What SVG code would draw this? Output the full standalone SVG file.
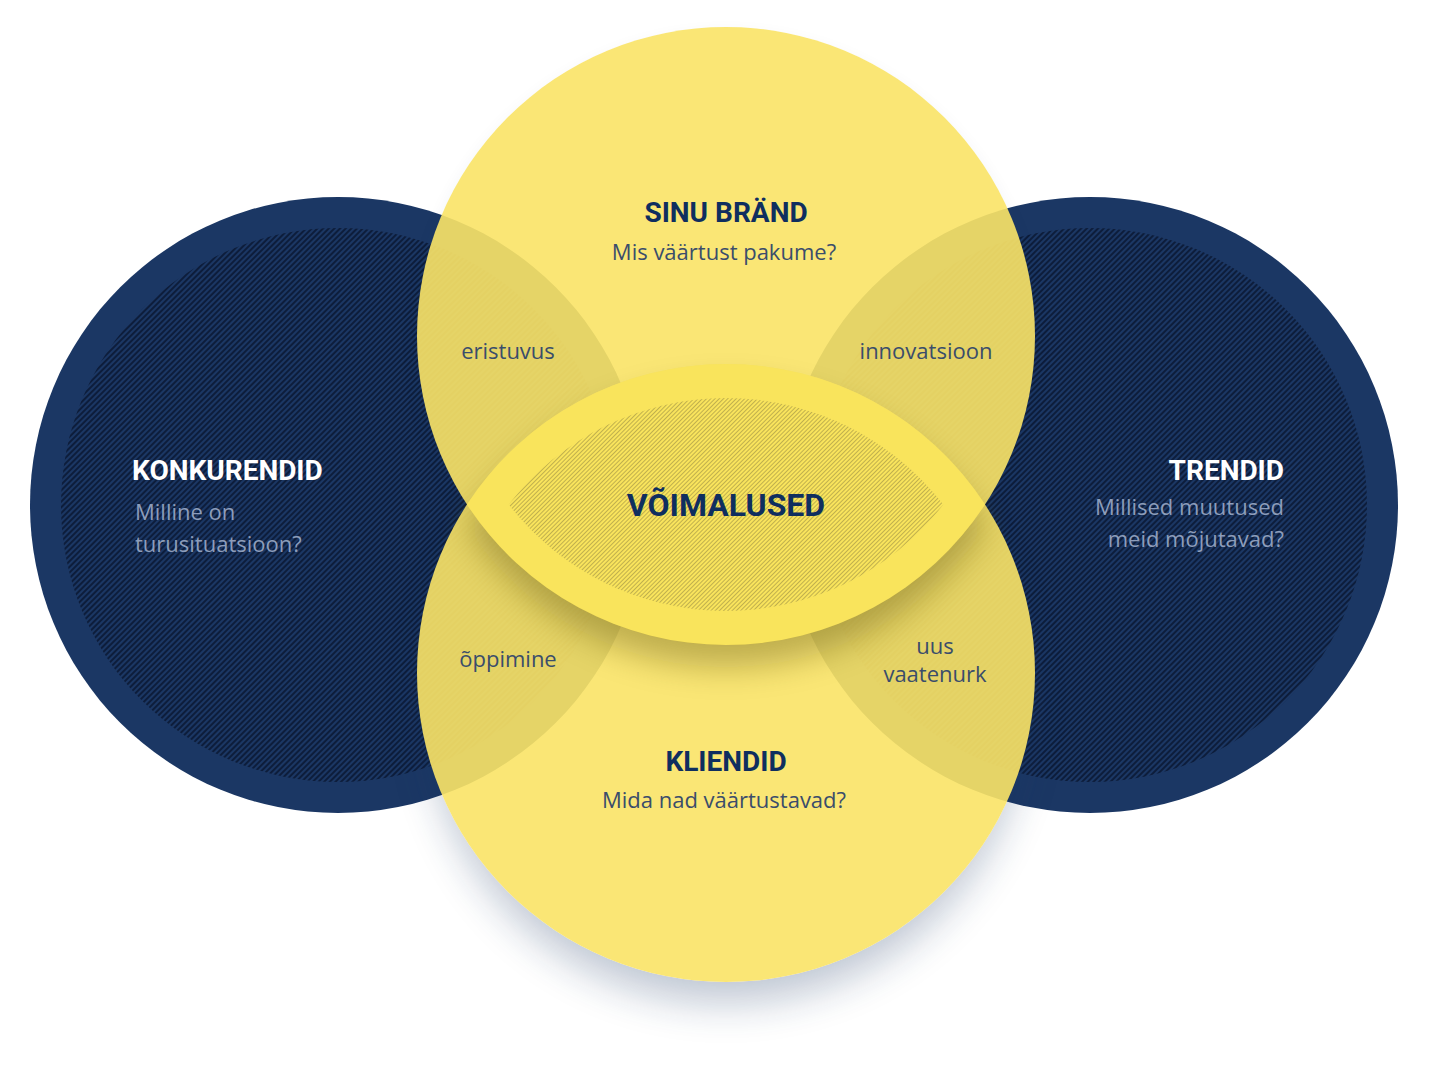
<svg xmlns="http://www.w3.org/2000/svg" width="1430" height="1075" viewBox="0 0 1430 1075">
  <style>
    .h { font-family: Roboto, "Liberation Sans", sans-serif; font-weight: 700; fill: #0f2e5f; }
    .hw { font-family: Roboto, "Liberation Sans", sans-serif; font-weight: 700; fill: #ffffff; }
    .b { font-family: "Open Sans", "Noto Sans", "Liberation Sans", sans-serif; font-size: 22px; font-weight: 500; fill: #3a4d6b; }
    .bn { font-family: "Open Sans", "Noto Sans", "Liberation Sans", sans-serif; font-size: 22px; font-weight: 500; fill: #8d9dba; }
    .navy { fill: #1b3764; }
    .yellow { fill: #f9e367; opacity: 0.91; }
  </style>
  <defs>
    <pattern id="hatchNavy" width="4" height="4" patternUnits="userSpaceOnUse" patternTransform="rotate(45)">
      <rect width="4" height="4" fill="#1b3764"/>
      <line x1="2" y1="0" x2="2" y2="4" stroke="#091630" stroke-width="1.6"/>
    </pattern>
    <pattern id="hatchLens" width="3" height="3" patternUnits="userSpaceOnUse" patternTransform="rotate(45)">
      <line x1="1.5" y1="0" x2="1.5" y2="3" stroke="#ae9f48" stroke-width="0.9"/>
    </pattern>
    <filter id="shadowBig" x="-30%" y="-30%" width="160%" height="170%">
      <feGaussianBlur stdDeviation="20"/>
    </filter>
    <filter id="shadowSmall" x="-30%" y="-30%" width="160%" height="170%">
      <feGaussianBlur stdDeviation="10"/>
    </filter>
    <filter id="shadowLens" x="-30%" y="-50%" width="160%" height="200%">
      <feGaussianBlur stdDeviation="16"/>
    </filter>
    <mask id="outsideYellow" maskUnits="userSpaceOnUse" x="0" y="0" width="1430" height="1075">
      <rect width="1430" height="1075" fill="#ffffff"/>
      <circle cx="726" cy="673" r="309" fill="#000000"/>
      <circle cx="726" cy="336" r="309" fill="#000000"/>
    </mask>
  </defs>

  <rect width="1430" height="1075" fill="#ffffff"/>

  <g id="node-konkurendid">
    <circle class="navy" cx="338" cy="505" r="308"/>
    <circle cx="338" cy="505" r="277" fill="url(#hatchNavy)"/>
  </g>
  <g id="node-trendid">
    <circle class="navy" cx="1090" cy="505" r="308"/>
    <circle cx="1090" cy="505" r="277" fill="url(#hatchNavy)"/>
  </g>

  <g id="shadows" mask="url(#outsideYellow)">
    <circle cx="726" cy="703" r="300" fill="#1b3764" opacity="0.28" filter="url(#shadowBig)"/>
    <circle cx="726" cy="344" r="306" fill="#1b3764" opacity="0.10" filter="url(#shadowSmall)"/>
  </g>

  <g id="node-kliendid">
    <circle class="yellow" cx="726" cy="673" r="309"/>
  </g>
  <g id="node-sinu-brand">
    <circle class="yellow" cx="726" cy="336" r="309"/>
  </g>

  <g id="node-voimalused">
    <path d="M467 526.5 A309 309 0 0 1 985 526.5 A309 309 0 0 1 467 526.5 Z" fill="#5e5210" opacity="0.38" filter="url(#shadowLens)"/>
    <path d="M467 504.5 A309 309 0 0 1 985 504.5 A309 309 0 0 1 467 504.5 Z" fill="#f9e45c"/>
    <path d="M508.7 504.5 A275 275 0 0 1 943.3 504.5 A275 275 0 0 1 508.7 504.5 Z" fill="url(#hatchLens)" opacity="0.85"/>
    <text class="h" x="726" y="516" font-size="32" text-anchor="middle">VÕIMALUSED</text>
  </g>

  <g id="labels-konkurendid">
    <text class="hw" x="132" y="480" font-size="28">KONKURENDID</text>
    <text class="bn" x="135" y="520">Milline on</text>
    <text class="bn" x="135" y="552">turusituatsioon?</text>
  </g>
  <g id="labels-trendid">
    <text class="hw" x="1284" y="480" font-size="28" text-anchor="end">TRENDID</text>
    <text class="bn" x="1284" y="515" text-anchor="end">Millised muutused</text>
    <text class="bn" x="1284" y="547" text-anchor="end">meid mõjutavad?</text>
  </g>
  <g id="labels-sinu-brand">
    <text class="h" x="726" y="222" font-size="28" text-anchor="middle">SINU BRÄND</text>
    <text class="b" x="724" y="260" text-anchor="middle">Mis väärtust pakume?</text>
  </g>
  <g id="labels-kliendid">
    <text class="h" x="726" y="771" font-size="28" text-anchor="middle">KLIENDID</text>
    <text class="b" x="724" y="808" text-anchor="middle">Mida nad väärtustavad?</text>
  </g>
  <g id="node-eristuvus"><text class="b" x="508" y="359" text-anchor="middle">eristuvus</text></g>
  <g id="node-innovatsioon"><text class="b" x="926" y="359" text-anchor="middle">innovatsioon</text></g>
  <g id="node-oppimine"><text class="b" x="508" y="667" text-anchor="middle">õppimine</text></g>
  <g id="node-uus-vaatenurk">
    <text class="b" x="935" y="654" text-anchor="middle">uus</text>
    <text class="b" x="935" y="682" text-anchor="middle">vaatenurk</text>
  </g>
  <g id="connectors"/>
</svg>
